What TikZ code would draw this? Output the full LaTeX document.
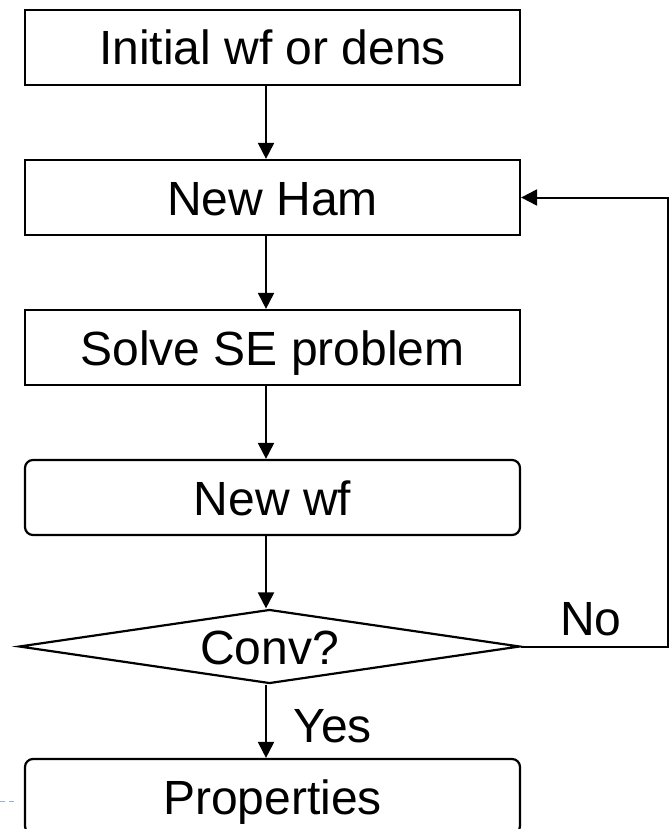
\documentclass[tikz,border=0pt]{standalone}
\usepackage{fontspec}
\setmainfont{Liberation Sans}
\usetikzlibrary{shapes.geometric,arrows.meta}
\begin{document}
\begin{tikzpicture}[x=1pt,y=-1pt,
  every node/.style={font=\fontsize{48pt}{58pt}\selectfont, text height=35pt, text depth=0pt, inner sep=0pt},
  procbox/.style={draw, line width=2.2pt, minimum width=495pt, minimum height=75pt},
  roundbox/.style={procbox, rounded corners=8pt},
  decision/.style={draw, line width=2.2pt, diamond, aspect=6.8, minimum width=501pt, minimum height=74pt},
  arr/.style={line width=2pt, -{Triangle[length=16pt,width=16pt]}},
  lbl/.style={}
]
\clip (0,0) rectangle (670,829);
\fill[white] (0,0) rectangle (670,829);
\coordinate (ax) at (266,0);
\coordinate (fb) at (668,0);

\node[procbox] (init) at (272.5,47.5) {Initial wf or dens};
\node[procbox] (ham) at (272.5,197.5) {New Ham};
\node[procbox] (solve) at (272.5,347.5) {Solve SE problem};
\node[roundbox] (wf) at (272.5,497.5) {New wf};
\node[decision] (conv) at (269.5,646.5) {Conv?};
\node[roundbox] (prop) at (272.5,796.5) {Properties};

\node[lbl] (no) at (591,617.5) {No};
\node[lbl] (yes) at (332.5,725) {Yes};

\draw[arr] (init.south -| ax) -- (ham.north -| ax);
\draw[arr] (ham.south -| ax) -- (solve.north -| ax);
\draw[arr] (solve.south -| ax) -- (wf.north -| ax);
\draw[arr] (wf.south -| ax) -- (conv.north -| ax);
\draw[arr] (conv.south -| ax) -- (prop.north -| ax);
\draw[arr] (conv.east) -- (conv.east -| fb) |- (ham.east);

\coordinate (d0) at (0,801);
\coordinate (d1) at (18,801);
\draw[color={rgb,255:red,150;green,175;blue,210}, line width=1pt, dash pattern=on 5pt off 4pt] (d0) -- (d1);
\end{tikzpicture}
\end{document}
